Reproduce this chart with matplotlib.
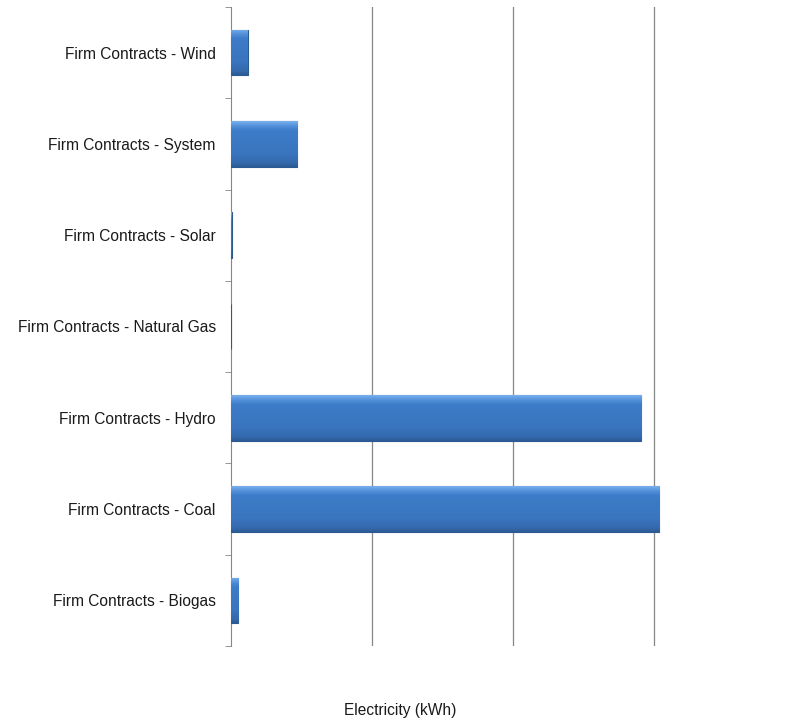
import numpy as np
import matplotlib.pyplot as plt
from matplotlib.colors import LinearSegmentedColormap

categories = [
    'Firm Contracts - Wind',
    'Firm Contracts - System',
    'Firm Contracts - Solar',
    'Firm Contracts - Natural Gas',
    'Firm Contracts - Hydro',
    'Firm Contracts - Coal',
    'Firm Contracts - Biogas',
]
# relative scale: one gridline step = 1
values = [0.12, 0.47, 0.005, 0.0, 2.91, 3.04, 0.05]

plt.rcParams['font.family'] = ['Liberation Sans', 'DejaVu Sans']

fig = plt.figure(figsize=(7.89, 7.25), dpi=100)
ax = fig.add_axes([0.2928, 0.1090, 0.5716, 0.8814])

y = np.arange(len(categories))
bars = ax.barh(y, values, height=0.5, color='#3b78c3', edgecolor='#2b5a92',
               linewidth=0.8, zorder=3)

# vertical gradient inside each bar (bevel look): dark bottom, flat middle, light top
grad = LinearSegmentedColormap.from_list(
    'bevel', [(0.0, '#2c5a94'), (0.08, '#3469ad'), (0.3, '#3a75bf'),
              (0.8, '#3d7cc9'), (0.9, '#5592dc'), (1.0, '#79b0ec')])
g = np.linspace(0, 1, 128).reshape(-1, 1)
for b in bars:
    if b.get_width() <= 0:
        continue
    x0, y0 = b.get_x(), b.get_y()
    w, h = b.get_width(), b.get_height()
    im = ax.imshow(g, cmap=grad, aspect='auto', zorder=3.5,
                   extent=[x0, x0 + w, y0 + h, y0], origin='lower',
                   interpolation='bilinear')
    im.set_clip_path(b)

ax.set_ylim(len(categories) - 0.5, -0.5)
ax.set_xlim(0, 3.2)

ax.set_yticks(y)
ax.set_yticklabels(categories, fontsize=11.2, color='#1a1a1a')
ax.set_yticks(np.arange(len(categories) + 1) - 0.5, minor=True)
ax.tick_params(axis='y', which='major', length=0, pad=11)
ax.tick_params(axis='y', which='minor', length=4, color='#868686', direction='out')

ax.set_xticks([1, 2, 3])
ax.set_xticklabels([])
ax.tick_params(axis='x', length=0)
ax.grid(axis='x', color='#868686', linewidth=0.9, zorder=0)

for s in ['top', 'right', 'bottom']:
    ax.spines[s].set_visible(False)
ax.spines['left'].set_color('#868686')

fig.text(400 / 789, 1 - 711 / 725, 'Electricity (kWh)', ha='center',
         va='center', fontsize=11.2, color='#1a1a1a')

plt.savefig('out.png', dpi=100)
